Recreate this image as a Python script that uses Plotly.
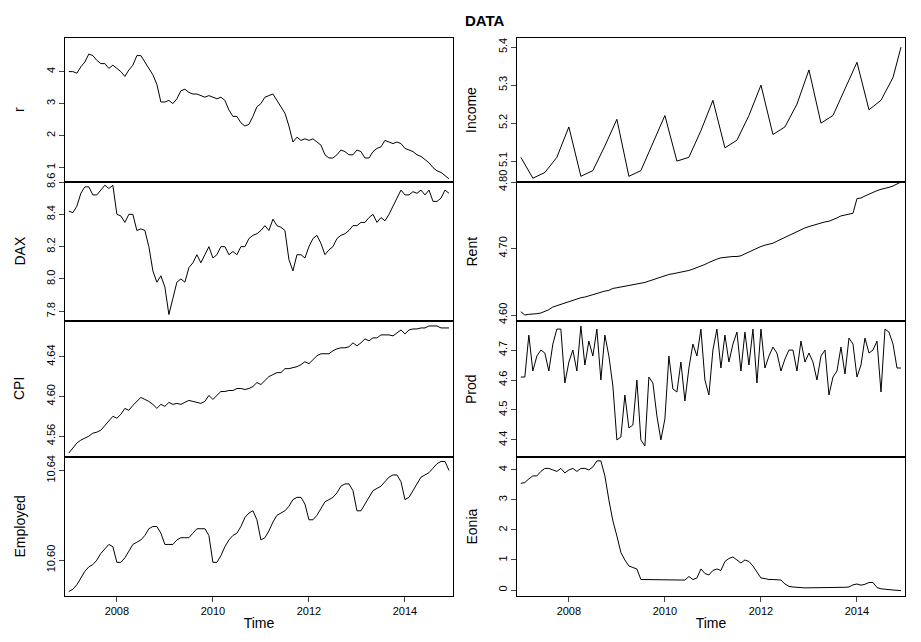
import plotly.graph_objects as go
from plotly.subplots import make_subplots

# monthly 2007-01 .. 2014-12
time = [2007 + i / 12 for i in range(96)]

r = [4.0,4.0,3.95,4.15,4.3,4.55,4.5,4.35,4.25,4.25,4.1,4.2,
     4.1,4.0,3.85,4.05,4.2,4.5,4.5,4.3,4.1,3.9,3.6,3.05,
     3.05,3.1,3.0,3.15,3.4,3.45,3.35,3.3,3.3,3.25,3.2,3.25,
     3.2,3.15,3.2,3.1,2.8,2.6,2.6,2.4,2.3,2.35,2.6,2.9,
     3.0,3.2,3.25,3.3,3.1,2.9,2.7,2.3,1.8,1.95,1.85,1.9,
     1.85,1.9,1.8,1.7,1.4,1.3,1.3,1.4,1.55,1.5,1.4,1.4,
     1.55,1.5,1.3,1.3,1.5,1.6,1.65,1.85,1.8,1.75,1.8,1.75,
     1.6,1.55,1.5,1.4,1.35,1.25,1.15,1.0,0.9,0.85,0.75,0.65]

dax = [8.42,8.41,8.45,8.53,8.57,8.57,8.52,8.52,8.55,8.58,8.56,8.58,
       8.40,8.39,8.35,8.40,8.40,8.30,8.31,8.30,8.20,8.05,7.98,8.02,
       7.95,7.78,7.88,7.98,8.00,7.98,8.07,8.10,8.15,8.10,8.15,8.20,
       8.13,8.15,8.20,8.20,8.15,8.17,8.15,8.20,8.20,8.25,8.27,8.28,
       8.30,8.33,8.30,8.37,8.33,8.32,8.30,8.12,8.05,8.15,8.15,8.13,
       8.20,8.25,8.27,8.22,8.15,8.18,8.20,8.25,8.27,8.28,8.30,8.33,
       8.33,8.35,8.35,8.38,8.40,8.35,8.38,8.36,8.40,8.45,8.50,8.55,
       8.52,8.52,8.54,8.53,8.55,8.52,8.55,8.48,8.48,8.50,8.55,8.53]

cpi = [4.543,4.548,4.553,4.556,4.558,4.560,4.563,4.564,4.566,4.571,4.575,4.580,
       4.578,4.582,4.588,4.586,4.591,4.595,4.599,4.597,4.595,4.592,4.588,4.592,
       4.590,4.594,4.592,4.593,4.592,4.594,4.596,4.595,4.594,4.593,4.595,4.601,
       4.597,4.601,4.605,4.605,4.606,4.606,4.608,4.608,4.607,4.608,4.610,4.614,
       4.612,4.616,4.620,4.622,4.624,4.624,4.628,4.628,4.629,4.630,4.632,4.635,
       4.633,4.637,4.641,4.643,4.643,4.643,4.646,4.648,4.649,4.649,4.650,4.654,
       4.651,4.654,4.658,4.656,4.659,4.659,4.662,4.662,4.662,4.661,4.664,4.667,
       4.663,4.667,4.668,4.668,4.669,4.669,4.671,4.671,4.671,4.669,4.669,4.669]

employed = [10.586,10.587,10.589,10.592,10.595,10.597,10.598,10.600,10.603,10.605,10.607,10.606,
            10.599,10.599,10.601,10.604,10.607,10.608,10.609,10.611,10.614,10.615,10.615,10.612,
            10.607,10.607,10.607,10.609,10.610,10.610,10.610,10.612,10.614,10.614,10.614,10.611,
            10.599,10.599,10.602,10.606,10.609,10.611,10.612,10.615,10.619,10.621,10.622,10.618,
            10.609,10.610,10.613,10.617,10.620,10.621,10.622,10.624,10.627,10.628,10.628,10.625,
            10.618,10.618,10.620,10.623,10.626,10.627,10.628,10.630,10.633,10.634,10.634,10.631,
            10.622,10.622,10.625,10.628,10.631,10.632,10.633,10.635,10.637,10.638,10.638,10.635,
            10.627,10.628,10.631,10.634,10.637,10.638,10.639,10.641,10.643,10.644,10.644,10.640]

# Income drawn from quarterly vertices
income_time = [2007 + i / 4 for i in range(32)] + [2014 + 11 / 12]
income = [5.11,5.055,5.07,5.11,5.19,5.06,5.075,5.14,5.21,5.06,5.075,5.15,
          5.22,5.10,5.11,5.18,5.26,5.135,5.155,5.22,5.30,5.17,5.19,5.25,
          5.34,5.20,5.22,5.29,5.36,5.235,5.26,5.32,5.40]

rent = [4.605,4.600,4.601,4.601,4.602,4.603,4.605,4.608,4.612,4.614,4.617,4.619,
        4.621,4.623,4.625,4.626,4.627,4.629,4.631,4.633,4.634,4.636,4.637,4.640,
        4.641,4.642,4.643,4.644,4.645,4.646,4.647,4.649,4.651,4.653,4.655,4.658,
        4.660,4.661,4.662,4.663,4.664,4.665,4.667,4.669,4.671,4.673,4.676,4.679,
        4.682,4.684,4.686,4.687,4.688,4.688,4.688,4.689,4.692,4.695,4.698,4.700,
        4.703,4.705,4.706,4.708,4.711,4.714,4.717,4.720,4.723,4.725,4.728,4.731,
        4.733,4.735,4.737,4.739,4.740,4.741,4.743,4.746,4.749,4.750,4.752,4.753,
        4.775,4.776,4.779,4.782,4.785,4.787,4.789,4.790,4.792,4.794,4.797,4.800]

prod = [4.61,4.61,4.75,4.63,4.68,4.70,4.69,4.63,4.72,4.77,4.77,4.59,
        4.66,4.70,4.63,4.78,4.65,4.73,4.68,4.77,4.60,4.75,4.68,4.58,
        4.40,4.41,4.55,4.44,4.45,4.60,4.40,4.38,4.61,4.59,4.48,4.40,
        4.47,4.68,4.57,4.56,4.66,4.53,4.64,4.72,4.68,4.77,4.60,4.55,
        4.70,4.77,4.64,4.75,4.66,4.72,4.76,4.63,4.76,4.65,4.77,4.59,
        4.77,4.64,4.68,4.71,4.69,4.63,4.67,4.70,4.70,4.63,4.73,4.66,
        4.69,4.66,4.60,4.68,4.70,4.55,4.61,4.63,4.71,4.62,4.74,4.72,
        4.61,4.65,4.74,4.69,4.70,4.73,4.56,4.77,4.76,4.72,4.64,4.64]

eonia = [3.55,3.58,3.70,3.80,3.80,3.95,4.05,4.05,4.00,3.95,4.05,3.90,
         4.00,4.05,3.95,4.05,4.05,4.00,4.10,4.30,4.30,3.80,3.00,2.30,
         1.80,1.25,1.00,0.80,0.75,0.70,0.35,0.35,0.35,0.35,0.35,0.35,
         0.33,0.33,0.33,0.33,0.33,0.33,0.45,0.35,0.40,0.70,0.55,0.50,
         0.65,0.70,0.65,0.95,1.05,1.10,1.00,0.90,1.00,0.95,0.80,0.60,
         0.40,0.38,0.35,0.35,0.35,0.33,0.20,0.12,0.10,0.08,0.08,0.07,
         0.07,0.07,0.07,0.08,0.08,0.09,0.09,0.08,0.08,0.09,0.10,0.17,
         0.20,0.16,0.19,0.25,0.25,0.08,0.04,0.02,0.01,0.00,-0.01,-0.02]

W, H = 921, 642
panels = [  # name, x, y, yrange, ticks, ticktext, row, col
    ("r", time, r, [0.55, 5.05], [1, 2, 3, 4], ["1", "2", "3", "4"], 1, 1),
    ("DAX", time, dax, [7.74, 8.6], [7.8, 8.0, 8.2, 8.4, 8.6], ["7.8", "8.0", "8.2", "8.4", "8.6"], 2, 1),
    ("CPI", time, cpi, [4.539, 4.676], [4.56, 4.60, 4.64], ["4.56", "4.60", "4.64"], 3, 1),
    ("Employed", time, employed, [10.584, 10.646], [10.60, 10.64], ["10.60", "10.64"], 4, 1),
    ("Income", income_time, income, [5.045, 5.424], [5.1, 5.2, 5.3, 5.4], ["5.1", "5.2", "5.3", "5.4"], 1, 2),
    ("Rent", time, rent, [4.591, 4.80], [4.60, 4.70, 4.80], ["4.60", "4.70", "4.80"], 2, 2),
    ("Prod", time, prod, [4.343, 4.797], [4.4, 4.5, 4.6, 4.7], ["4.4", "4.5", "4.6", "4.7"], 3, 2),
    ("Eonia", time, eonia, [-0.2, 4.43], [0, 1, 2, 3, 4], ["0", "1", "2", "3", "4"], 4, 2),
]

fig = make_subplots(rows=4, cols=2)
# panel edges in pixels
ytops = [30, 174, 313, 449, 588]
xcols = [(57, 445), (509, 897)]
font = "Liberation Sans, Arial, sans-serif"

for name, xs, ys, yr, tv, tt, row, col in panels:
    fig.add_trace(go.Scatter(x=xs, y=ys, mode="lines", line=dict(color="black", width=1),
                             showlegend=False), row=row, col=col)
    x0, x1 = xcols[col - 1]
    y0, y1 = ytops[row - 1], ytops[row]
    bottom = row == 4
    fig.update_xaxes(domain=[x0 / W, x1 / W], range=[2006.92, 2015.0], automargin=False,
                     showline=True, mirror=True, linecolor="black", linewidth=0.8,
                     showgrid=False, zeroline=False,
                     tickvals=[2008, 2010, 2012, 2014] if bottom else [],
                     ticks="outside" if bottom else "", ticklen=5,
                     showticklabels=bottom, tickfont=dict(size=11, color="black"),
                     title=dict(text="Time", font=dict(size=14, color="black"), standoff=2) if bottom else None,
                     row=row, col=col)
    fig.update_yaxes(domain=[1 - y1 / H, 1 - y0 / H], range=yr, automargin=False,
                     showline=True, mirror=True, linecolor="black", linewidth=0.8,
                     showgrid=False, zeroline=False, tickvals=tv, ticktext=tt,
                     ticks="outside", ticklen=5, tickangle=-90,
                     tickfont=dict(size=11, color="black"),
                     row=row, col=col)
    fig.add_annotation(text=name, xref="paper", yref="paper", xanchor="center", yanchor="middle",
                       x=(x0 - 46) / W, y=1 - (y0 + y1) / 2 / H, textangle=-90,
                       showarrow=False, font=dict(size=14, color="black", family=font))

fig.add_annotation(text="<b>DATA</b>", xref="paper", yref="paper", x=477 / W,
                   y=1 - 12 / H, xanchor="center", yanchor="middle",
                   showarrow=False, font=dict(size=15, color="black", family=font))

fig.update_layout(width=W, height=H, margin=dict(l=0, r=0, t=0, b=0),
                  plot_bgcolor="white", paper_bgcolor="white", font=dict(family=font))

fig.write_html("out.html")
